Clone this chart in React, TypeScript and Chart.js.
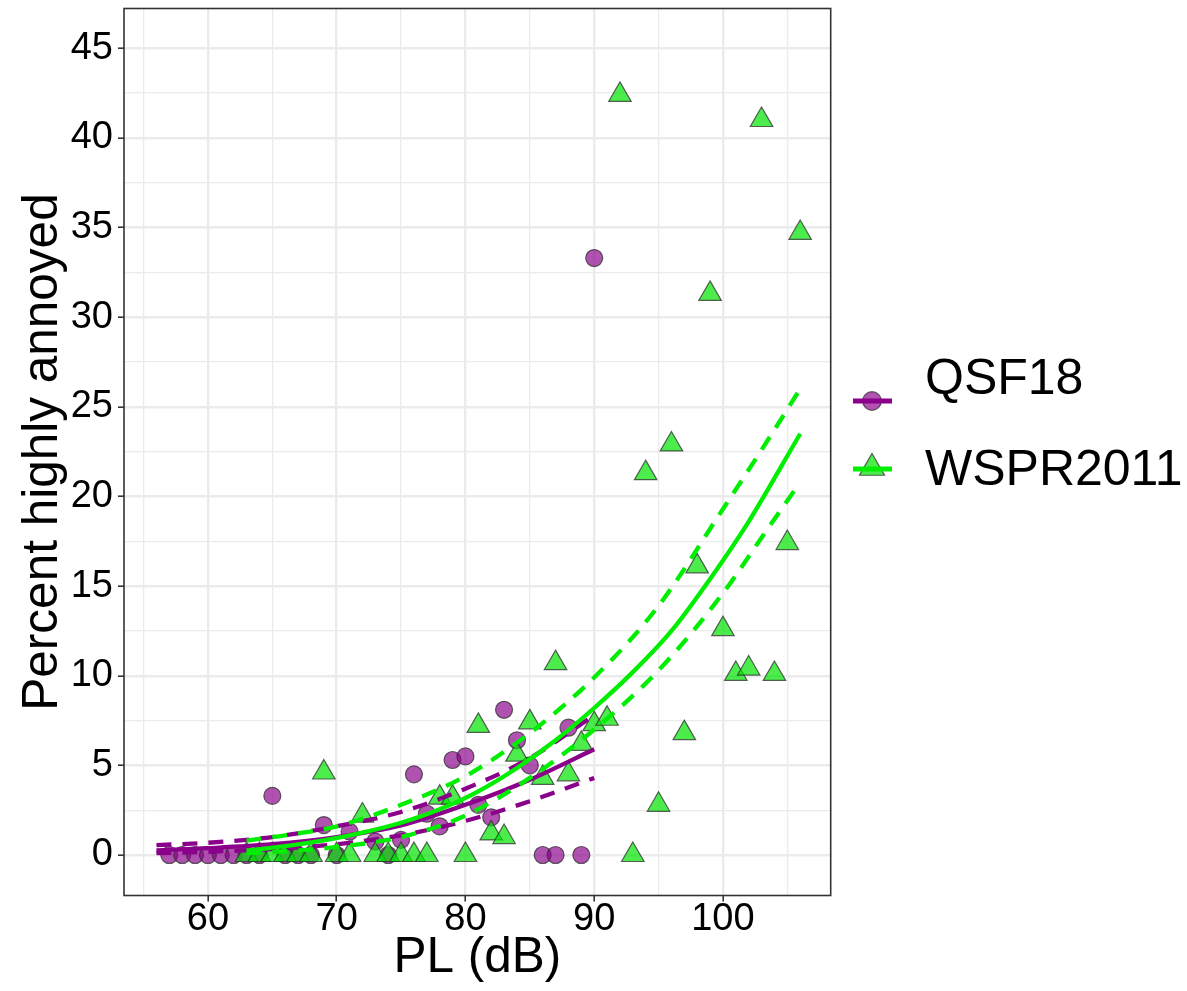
import React, { useEffect, useRef } from "react";
import { Chart, registerables } from "chart.js";

Chart.register(...registerables);

// ---------------- data ----------------
const seriesNames = ["QSF18", "WSPR2011"];
const xTitle = "PL (dB)";
const yTitle = "Percent highly annoyed";

const qsfPL = [57, 58, 59, 60, 61, 62, 63, 64, 65, 66, 67, 68, 69, 70, 71, 73, 74, 75, 76, 77, 78, 79, 80, 81, 82, 83, 84, 85, 86, 87, 88, 89, 90];
const qsfHA = [0, 0, 0, 0, 0, 0, 0, 0, 3.3, 0, 0, 0, 1.67, 0, 1.3, 0.75, 0, 0.84, 4.5, 2.3, 1.6, 5.3, 5.5, 2.8, 2.1, 8.1, 6.4, 5.0, 0, 0, 7.1, 0, 33.3];

const wsprPL = [63, 64, 65, 66, 67, 68, 69, 70, 71, 72, 73, 74, 75, 76, 77, 78, 79, 80, 81, 82, 83, 84, 85, 86, 87, 88, 89, 90, 91, 92, 93, 94, 95, 96, 97, 98, 99, 100, 101, 102, 103, 104, 105, 106];
const wsprHA = [0, 0, 0, 0, 0, 0, 4.6, 0, 0, 2.2, 0, 0, 0, 0, 0, 3.2, 3.2, 0, 7.2, 1.2, 1.0, 5.6, 7.4, 4.3, 10.7, 4.5, 6.2, 7.3, 7.6, 42.4, 0, 21.3, 2.8, 22.9, 6.8, 16.1, 31.3, 12.6, 10.1, 10.4, 41.0, 10.1, 17.4, 34.7];

const qsfFitPL = [56, 60, 65, 70, 75, 80, 85, 90];
const qsfFit = [0.26, 0.38, 0.6, 1.0, 1.65, 2.8, 4.2, 5.9];
const qsfFitUpper = [0.55, 0.68, 1.0, 1.6, 2.4, 3.7, 5.4, 7.8];
const qsfFitLower = [0.1, 0.18, 0.33, 0.6, 1.1, 1.9, 3.0, 4.3];

const wsprFitPL = [63, 66, 69, 72, 75, 78, 81, 84, 87, 90, 93, 96, 99, 102, 106];
const wsprFit = [0.25, 0.5, 0.82, 1.25, 1.8, 2.55, 3.55, 4.85, 6.4, 8.2, 10.2, 12.5, 15.4, 18.6, 23.5];
const wsprBandPL = [63, 66, 70, 75, 80, 85, 90, 95, 100, 103, 106];
const wsprFitUpper = [0.8, 1.1, 1.6, 2.8, 4.4, 6.8, 9.9, 13.9, 19.3, 22.6, 26.0];
const wsprFitLower = [0.1, 0.2, 0.45, 1.0, 2.2, 4.3, 7.0, 10.3, 14.6, 17.7, 20.8];

const xMajorTicks = [60, 70, 80, 90, 100];
const xMinorTicks = [55, 65, 75, 85, 95, 105];
const yMajorTicks = [0, 5, 10, 15, 20, 25, 30, 35, 40, 45];
const yMinorTicks = [2.5, 7.5, 12.5, 17.5, 22.5, 27.5, 32.5, 37.5, 42.5];

// ---------------- layout / style ----------------
const W = 1187;
const H = 991;
const PLOT = { left: 124, right: 830.7, top: 8.5, bottom: 895.5 };
const X_RANGE = { min: 53.48, max: 108.37 };
const Y_RANGE = { min: -2.26, max: 47.22 };
const FONT = "'Liberation Sans', Arial, Helvetica, sans-serif";

const PURPLE = "#8B008B";
const PURPLE_FILL = "rgba(139, 0, 139, 0.68)";
const GREEN = "#00EE00";
const GREEN_FILL = "rgba(0, 228, 0, 0.7)";
const MARK_EDGE = "rgba(45, 45, 45, 0.75)";
const GRID = "#EBEBEB";
const FRAME = "#333333";
const DASH = [15, 11];
const LINE_W = 4.3;
const CIRCLE_R = 8.5;
const TRI_R = 13;
const TICK_SIZE = 38;
const TITLE_SIZE = 49.5;
const LEGEND_SIZE = 50;

const zip = (xs: number[], ys: number[]) => xs.map((x, i) => ({ x, y: ys[i] }));

const framePlugin = {
  id: "frameAndLegend",
  afterDatasetsDraw(chart: any) {
    const { ctx, chartArea: a } = chart;
    ctx.save();
    ctx.strokeStyle = FRAME;
    ctx.lineWidth = 1.6;
    ctx.strokeRect(a.left, a.top, a.right - a.left, a.bottom - a.top);
    ctx.restore();
  },
  afterDraw(chart: any) {
    const ctx: CanvasRenderingContext2D = chart.ctx;
    ctx.save();
    const keyX0 = 853;
    const keyX1 = 892;
    const keyCx = 872;
    // QSF18 key
    const y1 = 401;
    ctx.beginPath();
    ctx.arc(keyCx, y1, CIRCLE_R + 0.8, 0, Math.PI * 2);
    ctx.fillStyle = PURPLE_FILL;
    ctx.fill();
    ctx.lineWidth = 1.2;
    ctx.strokeStyle = MARK_EDGE;
    ctx.stroke();
    ctx.beginPath();
    ctx.moveTo(keyX0, y1);
    ctx.lineTo(keyX1, y1);
    ctx.lineWidth = 5;
    ctx.strokeStyle = PURPLE;
    ctx.stroke();
    // WSPR2011 key
    const y2 = 468;
    const r = TRI_R + 1.5;
    ctx.beginPath();
    ctx.moveTo(keyCx, y2 - r);
    ctx.lineTo(keyCx + r * 0.866, y2 + r * 0.5);
    ctx.lineTo(keyCx - r * 0.866, y2 + r * 0.5);
    ctx.closePath();
    ctx.fillStyle = GREEN_FILL;
    ctx.fill();
    ctx.lineWidth = 1.2;
    ctx.strokeStyle = MARK_EDGE;
    ctx.stroke();
    ctx.beginPath();
    ctx.moveTo(keyX0, y2 + 1);
    ctx.lineTo(keyX1, y2 + 1);
    ctx.lineWidth = 5;
    ctx.strokeStyle = GREEN;
    ctx.stroke();
    // labels
    ctx.fillStyle = "#000";
    ctx.font = `${LEGEND_SIZE}px ${FONT}`;
    ctx.textAlign = "left";
    ctx.textBaseline = "middle";
    ctx.fillText(seriesNames[0], 925, 380);
    ctx.fillText(seriesNames[1], 925, 471);
    ctx.restore();
  },
};

const isIn = (arr: number[], v: number) => arr.some((t) => Math.abs(t - v) < 1e-9);

export default function App() {
  const ref = useRef<HTMLCanvasElement>(null);

  useEffect(() => {
    const canvas = ref.current;
    if (!canvas) return;
    document.body.style.margin = "0";

    const lineDs = (label: string, xs: number[], ys: number[], color: string, dashed: boolean, order: number) => ({
      label,
      data: zip(xs, ys),
      showLine: true,
      borderColor: color,
      backgroundColor: color,
      borderWidth: LINE_W,
      borderDash: dashed ? DASH : [],
      borderCapStyle: "butt",
      cubicInterpolationMode: "monotone",
      pointRadius: 0,
      pointHoverRadius: 0,
      fill: false,
      order,
    });

    const chart = new Chart(canvas, {
      type: "scatter",
      data: {
        datasets: [
          lineDs("WSPR2011 fit", wsprFitPL, wsprFit, GREEN, false, 0),
          lineDs("WSPR2011 upper", wsprBandPL, wsprFitUpper, GREEN, true, 1),
          lineDs("WSPR2011 lower", wsprBandPL, wsprFitLower, GREEN, true, 2),
          lineDs("QSF18 fit", qsfFitPL, qsfFit, PURPLE, false, 3),
          lineDs("QSF18 upper", qsfFitPL, qsfFitUpper, PURPLE, true, 4),
          lineDs("QSF18 lower", qsfFitPL, qsfFitLower, PURPLE, true, 5),
          {
            label: seriesNames[1],
            data: zip(wsprPL, wsprHA),
            pointStyle: "triangle",
            pointRadius: TRI_R,
            pointHoverRadius: TRI_R,
            backgroundColor: GREEN_FILL,
            borderColor: MARK_EDGE,
            borderWidth: 1.2,
            order: 6,
          },
          {
            label: seriesNames[0],
            data: zip(qsfPL, qsfHA),
            pointStyle: "circle",
            pointRadius: CIRCLE_R,
            pointHoverRadius: CIRCLE_R,
            backgroundColor: PURPLE_FILL,
            borderColor: MARK_EDGE,
            borderWidth: 1.2,
            order: 7,
          },
        ] as any,
      },
      options: {
        responsive: false,
        devicePixelRatio: 1,
        animation: false,
        events: [],
        layout: { autoPadding: false, padding: { left: 0, top: PLOT.top, right: W - PLOT.right, bottom: 0 } },
        plugins: { legend: { display: false }, tooltip: { enabled: false } },
        scales: {
          x: {
            type: "linear",
            min: X_RANGE.min,
            max: X_RANGE.max,
            afterBuildTicks: (s: any) => {
              s.ticks = [...xMinorTicks, ...xMajorTicks].sort((a, b) => a - b).map((v) => ({ value: v }));
            },
            afterFit: (s: any) => {
              s.height = H - PLOT.bottom;
              s.paddingLeft = 0;
              s.paddingRight = 0;
            },
            ticks: {
              autoSkip: false,
              maxRotation: 0,
              minRotation: 0,
              padding: 0,
              color: "#000",
              font: { family: FONT, size: TICK_SIZE, lineHeight: 0.95 },
              callback: (v: any) => (isIn(xMajorTicks, Number(v)) ? String(v) : ""),
            },
            grid: {
              color: GRID,
              lineWidth: (c: any) => (c.tick && isIn(xMajorTicks, c.tick.value) ? 2.4 : 1.3),
              drawTicks: true,
              tickLength: 6,
              tickWidth: 1.6,
              tickColor: (c: any) => (c.tick && isIn(xMajorTicks, c.tick.value) ? FRAME : "rgba(0,0,0,0)"),
            },
            border: { display: false },
            title: {
              display: true,
              text: xTitle,
              color: "#000",
              font: { family: FONT, size: TITLE_SIZE, lineHeight: 1.2 },
              padding: { top: 0, bottom: 3 },
            },
          },
          y: {
            type: "linear",
            min: Y_RANGE.min,
            max: Y_RANGE.max,
            afterBuildTicks: (s: any) => {
              s.ticks = [...yMinorTicks, ...yMajorTicks].sort((a, b) => a - b).map((v) => ({ value: v }));
            },
            afterFit: (s: any) => {
              s.width = PLOT.left;
              s.paddingTop = 0;
              s.paddingBottom = 0;
            },
            ticks: {
              autoSkip: false,
              padding: 5,
              color: "#000",
              font: { family: FONT, size: TICK_SIZE, lineHeight: 0.3 },
              callback: (v: any) => (isIn(yMajorTicks, Number(v)) ? String(v) : ""),
            },
            grid: {
              color: GRID,
              lineWidth: (c: any) => (c.tick && isIn(yMajorTicks, c.tick.value) ? 2.4 : 1.3),
              drawTicks: true,
              tickLength: 6,
              tickWidth: 1.6,
              tickColor: (c: any) => (c.tick && isIn(yMajorTicks, c.tick.value) ? FRAME : "rgba(0,0,0,0)"),
            },
            border: { display: false },
            title: {
              display: true,
              text: yTitle,
              color: "#000",
              font: { family: FONT, size: TITLE_SIZE, lineHeight: 1.2 },
              padding: { top: 14, bottom: 0 },
            },
          },
        },
      } as any,
      plugins: [framePlugin],
    });

    return () => chart.destroy();
  }, []);

  return (
    <div style={{ position: "fixed", left: 0, top: 0, width: W, height: H, background: "#fff" }}>
      <canvas ref={ref} width={W} height={H} style={{ width: W, height: H, display: "block" }} />
    </div>
  );
}
